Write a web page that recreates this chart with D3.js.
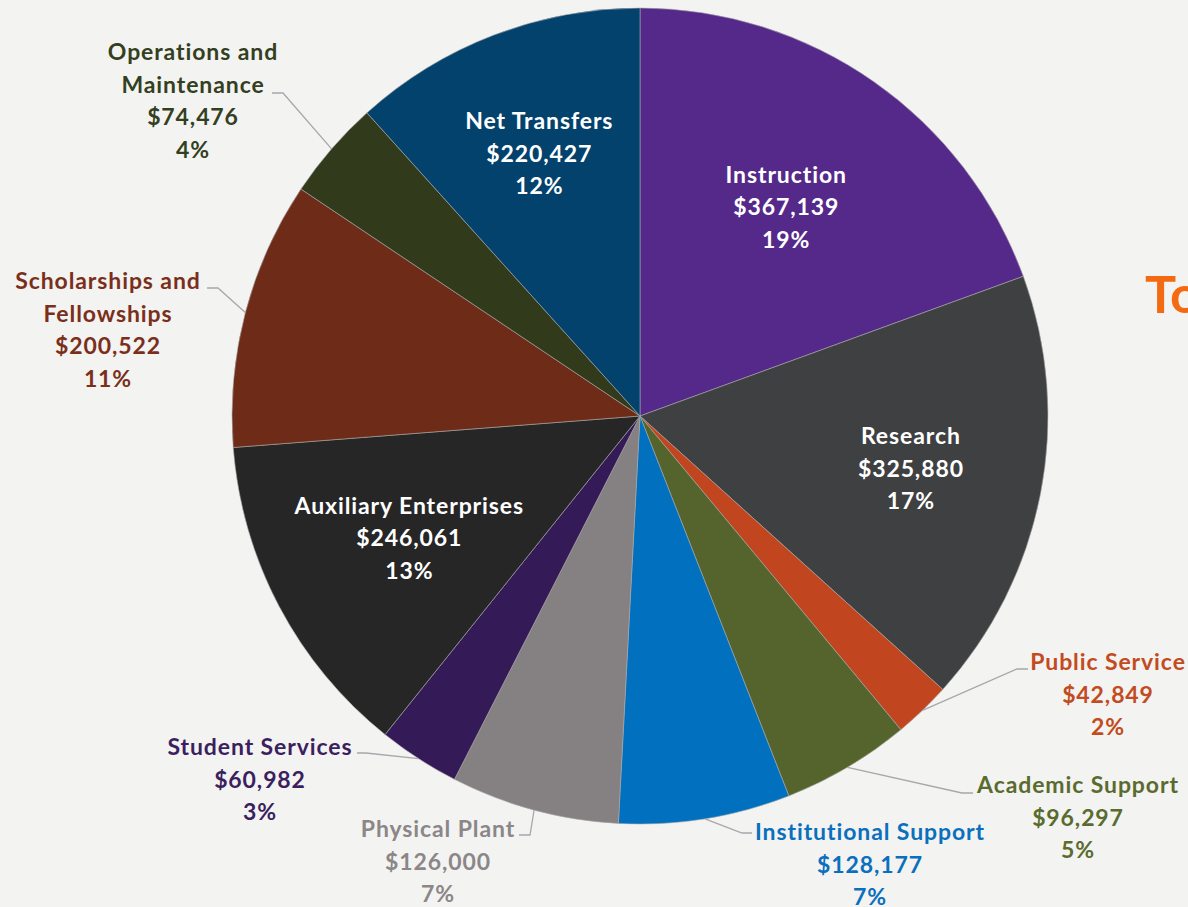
<!DOCTYPE html>
<html>
<head>
<meta charset="utf-8" />
<style>
  html, body {
    margin: 0;
    padding: 0;
    background: #f3f3f2;
    overflow: hidden;
  }
  body {
    font-family: "Lato", "Open Sans", sans-serif;
  }
  text {
    font-weight: bold;
  }
  .lbl {
    font-size: 23px;
    letter-spacing: 0.9px;
  }
</style>
</head>
<body>
<div id="container"></div>

<script src="https://d3js.org/d3.v7.min.js"></script>
<script>
  // DATA
  const categories = [
    "Instruction",
    "Research",
    "Public Service",
    "Academic Support",
    "Institutional Support",
    "Physical Plant",
    "Student Services",
    "Auxiliary Enterprises",
    "Scholarships and Fellowships",
    "Operations and Maintenance",
    "Net Transfers",
  ];
  const amounts = [
    367139, 325880, 42849, 96297, 128177, 126000, 60982, 246061, 200522,
    74476, 220427,
  ];
  const sliceColors = [
    "#55298a", "#3f4042", "#c1461f", "#55632c", "#0070bf", "#858081",
    "#341a57", "#262627", "#6d2b18", "#323a1c", "#02426d",
  ];
  const labelColors = [
    "#ffffff", "#ffffff", "#c24b20", "#5a6b2e", "#0a6fbd", "#8b8687",
    "#3b1f5e", "#ffffff", "#7a2f1b", "#333f1e", "#ffffff",
  ];

  // LAYOUT (positions only, not data)
  const W = 1188, H = 907;
  const cx = 640, cy = 416, R = 408;
  const lineGap = 32.5;

  // inside labels: radius of label centre from pie centre
  const insideRadius = {
    "Instruction": 255,
    "Research": 276,
    "Auxiliary Enterprises": 261,
    "Net Transfers": 281,
  };
  // outside labels: text centre x, first line centre y, leader elbow + end
  const outside = {
    "Operations and Maintenance": { lines: ["Operations and", "Maintenance"], x: 193, y: 52, elbow: [283, 93], end: [272, 93] },
    "Scholarships and Fellowships": { lines: ["Scholarships and", "Fellowships"], x: 108, y: 281, elbow: [218, 288], end: [207, 288] },
    "Student Services": { lines: ["Student Services"], x: 260, y: 747, elbow: [366, 753], end: [357, 753] },
    "Physical Plant": { lines: ["Physical Plant"], x: 438, y: 829, elbow: [530, 835], end: [519, 835] },
    "Institutional Support": { lines: ["Institutional Support"], x: 870, y: 832, elbow: [742, 833], end: [752, 833] },
    "Academic Support": { lines: ["Academic Support"], x: 1078, y: 785, elbow: [962, 793], end: [973, 793] },
    "Public Service": { lines: ["Public Service"], x: 1108, y: 662, elbow: [1017, 669], end: [1028, 669] },
  };

  const total = d3.sum(amounts);
  const fmt = d3.format("$,");
  const pct = (v) => Math.round((v / total) * 100) + "%";

  const data = categories.map((c, i) => ({
    name: c,
    value: amounts[i],
    color: sliceColors[i],
    labelColor: labelColors[i],
  }));

  const svg = d3
    .select("#container")
    .append("svg")
    .attr("width", W)
    .attr("height", H);

  // title, cut off at the right edge like the original
  svg
    .append("text")
    .attr("x", 1145)
    .attr("y", 313)
    .style("font-size", "52px")
    .style("fill", "#f46a12")
    .text("To");

  const pie = d3
    .pie()
    .value((d) => d.value)
    .sort(null)
    .startAngle(0)
    .endAngle(2 * Math.PI);

  const arcs = pie(data);
  const arc = d3.arc().innerRadius(0).outerRadius(R);

  const g = svg
    .append("g")
    .attr("transform", "translate(" + cx + "," + cy + ")");

  g.selectAll("path.slice")
    .data(arcs)
    .enter()
    .append("path")
    .attr("class", "slice")
    .attr("d", arc)
    .attr("fill", (d) => d.data.color)
    .attr("stroke", "#a8a8a8")
    .attr("stroke-width", 0.6);

  // INSIDE LABELS
  arcs
    .filter((d) => insideRadius[d.data.name])
    .forEach((d) => {
      const r = insideRadius[d.data.name];
      const p = d3.arc().innerRadius(r).outerRadius(r).centroid(d);
      const lines = [d.data.name, fmt(d.data.value), pct(d.data.value)];
      const t = g
        .append("text")
        .attr("class", "lbl")
        .attr("text-anchor", "middle")
        .style("fill", d.data.labelColor);
      lines.forEach((s, i) => {
        t.append("tspan")
          .attr("x", p[0])
          .attr("y", p[1] + (i - 1) * lineGap)
          .attr("dy", "0.35em")
          .text(s);
      });
    });

  // OUTSIDE LABELS + LEADERS
  const edge = d3.arc().innerRadius(R).outerRadius(R);
  arcs
    .filter((d) => outside[d.data.name])
    .forEach((d) => {
      const o = outside[d.data.name];
      const p = edge.centroid(d);
      svg
        .append("polyline")
        .attr(
          "points",
          [[p[0] + cx, p[1] + cy], o.elbow, o.end].map((q) => q.join(",")).join(" ")
        )
        .attr("fill", "none")
        .attr("stroke", "#aca5ac")
        .attr("stroke-width", 1.3);

      const lines = o.lines.concat([fmt(d.data.value), pct(d.data.value)]);
      const t = svg
        .append("text")
        .attr("class", "lbl")
        .attr("text-anchor", "middle")
        .style("fill", d.data.labelColor);
      lines.forEach((s, i) => {
        t.append("tspan")
          .attr("x", o.x)
          .attr("y", o.y + i * lineGap)
          .attr("dy", "0.35em")
          .text(s);
      });
    });
</script>
</body>
</html>
